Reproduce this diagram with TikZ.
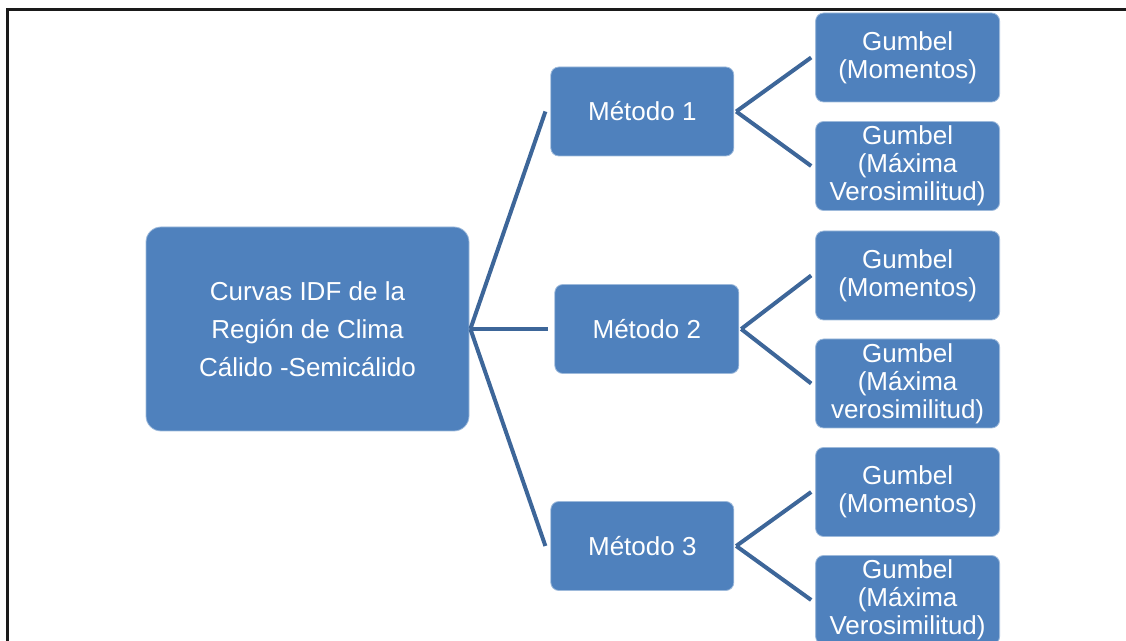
\documentclass[tikz,border=0pt]{standalone}
\usepackage{fontspec}
\setmainfont{Liberation Sans}
\usetikzlibrary{positioning}
\definecolor{boxblue}{HTML}{4F81BD}
\definecolor{linkblue}{HTML}{3D6699}
\definecolor{framegray}{HTML}{1A1A1A}

\begin{document}
\begin{tikzpicture}[
  x=0.5pt, y=-0.5pt,
  every node/.style={text=white, align=center},
  rootbox/.style={fill=boxblue, draw=boxblue!55!white, line width=0.4pt, rounded corners=7.5pt,
    minimum width=161.5pt, minimum height=102pt, inner sep=0pt, font=\fontsize{13}{19}\selectfont},
  metbox/.style={fill=boxblue, draw=boxblue!55!white, line width=0.4pt, rounded corners=4pt,
    minimum width=91.5pt, minimum height=44.5pt, inner sep=0pt, font=\fontsize{13}{14}\selectfont},
  leafbox/.style={metbox, minimum width=92pt},
  link/.style={draw=linkblue, line width=2pt}
]
\useasboundingbox (0,0) rectangle (1126,641);
% frame
\draw[framegray, line width=1.5pt] (7,641) -- (7,10) -- (1126,10);
% root and methods
\node[rootbox] (idf) at (307.5,329) {Curvas IDF de la\\Región de Clima\\Cálido -Semicálido};
\node[metbox, right=40.5pt of idf, yshift=108.75pt] (m1) {Método 1};
\node[metbox, right=42.5pt of idf, minimum width=92pt] (m2) {Método 2};
\node[metbox, right=40.5pt of idf, yshift=-108.5pt] (m3) {Método 3};
% distributions
\node[leafbox, right=40.5pt of m1, yshift=27pt] (l1) {Gumbel\\(Momentos)};
\node[leafbox, right=40.5pt of m1, yshift=-27.25pt] (l2) {Gumbel\\(Máxima\\Verosimilitud)};
\node[leafbox, right=38pt of m2, yshift=26.75pt] (l3) {Gumbel\\(Momentos)};
\node[leafbox, right=38pt of m2, yshift=-27.25pt] (l4) {Gumbel\\(Máxima\\verosimilitud)};
\node[leafbox, right=40.5pt of m3, yshift=27pt] (l5) {Gumbel\\(Momentos)};
\node[leafbox, right=40.5pt of m3, yshift=-27pt] (l6) {Gumbel\\(Máxima\\Verosimilitud)};
% connectors
\draw[link] ([xshift=0.5pt]idf.east) -- ([xshift=-2.5pt]m1.west);
\draw[link] ([xshift=0.5pt]idf.east) -- ([xshift=-3pt]m2.west);
\draw[link] ([xshift=0.5pt]idf.east) -- ([xshift=-2.5pt]m3.west);
\draw[link] ([xshift=1pt]m1.east) -- ([xshift=-2pt]l1.west);
\draw[link] ([xshift=1pt]m1.east) -- ([xshift=-2pt]l2.west);
\draw[link] ([xshift=1pt]m2.east) -- ([xshift=-2pt]l3.west);
\draw[link] ([xshift=1pt]m2.east) -- ([xshift=-2pt]l4.west);
\draw[link] ([xshift=1pt]m3.east) -- ([xshift=-2pt]l5.west);
\draw[link] ([xshift=1pt]m3.east) -- ([xshift=-2pt]l6.west);
\end{tikzpicture}
\end{document}
